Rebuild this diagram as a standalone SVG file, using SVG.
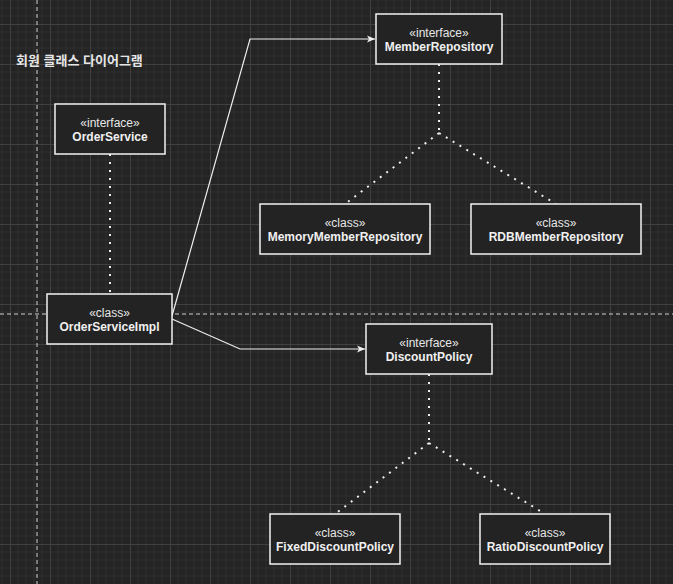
<svg xmlns="http://www.w3.org/2000/svg" width="673" height="584" viewBox="0 0 673 584">
<style>
.box{fill:#232323;stroke:#f2f2f2;stroke-width:1.5}
.st{font-family:"Liberation Sans",Arial,sans-serif;font-size:12px;fill:#e6e6e6;text-anchor:middle}
.nm{font-family:"Liberation Sans",Arial,sans-serif;font-size:12px;font-weight:bold;fill:#f0f0f0;text-anchor:middle}
.solid{fill:none;stroke:#eeeeee;stroke-width:1.2}
.dot{fill:none;stroke:#eeeeee;stroke-width:2;stroke-dasharray:2 6}
.guide{fill:none;stroke:#cfcfcf;stroke-width:1;stroke-dasharray:4 3}
</style>
<defs>
<pattern id="grid" patternUnits="userSpaceOnUse" x="10" y="24" width="40" height="40">
<rect width="40" height="40" fill="#242424"/>
<path d="M8,0V40M16,0V40M24,0V40M32,0V40M0,8H40M0,16H40M0,24H40M0,32H40" stroke="#2e2e2e" stroke-width="1" fill="none"/>
<path d="M0.5,0V40M0,0.5H40" stroke="#404040" stroke-width="1" fill="none"/>
</pattern>
<marker id="arr" markerWidth="9" markerHeight="8" refX="8" refY="4" orient="auto" markerUnits="userSpaceOnUse">
<path d="M0,0.5 L8,4 L0,7.5 L2,4 z" fill="#eeeeee"/>
</marker>
</defs>
<rect width="673" height="584" fill="url(#grid)"/>
<path class="guide" d="M37,0V584"/>
<path class="guide" d="M0,314H673"/>
<text x="16" y="65" font-family="'Liberation Sans','Noto Sans CJK KR',sans-serif" font-size="13" font-weight="bold" fill="#e6e6e6">회원 클래스 다이어그램</text>
<g id="connectors">
<path class="dot" d="M110,154V294"/>
<path class="dot" d="M439,64V133"/>
<path class="dot" d="M439,133L345,204"/>
<path class="dot" d="M439,133L556,204"/>
<path class="dot" d="M429,374V443"/>
<path class="dot" d="M429,443L335,514"/>
<path class="dot" d="M429,443L545,514"/>
<path class="solid" d="M172,316L250,39H375" marker-end="url(#arr)"/>
<path class="solid" d="M172,319L240,349H365" marker-end="url(#arr)"/>
</g>
<g id="OrderService">
<rect class="box" x="55" y="104" width="110" height="50"/>
<text class="st" x="110" y="127">«interface»</text>
<text class="nm" x="110" y="141">OrderService</text>
</g>
<g id="OrderServiceImpl">
<rect class="box" x="47" y="294" width="125" height="50"/>
<text class="st" x="109.5" y="317">«class»</text>
<text class="nm" x="109.5" y="331">OrderServiceImpl</text>
</g>
<g id="MemberRepository">
<rect class="box" x="376" y="14" width="126" height="50"/>
<text class="st" x="439" y="37">«interface»</text>
<text class="nm" x="439" y="51">MemberRepository</text>
</g>
<g id="MemoryMemberRepository">
<rect class="box" x="260" y="204" width="170" height="50"/>
<text class="st" x="345" y="227">«class»</text>
<text class="nm" x="345" y="241">MemoryMemberRepository</text>
</g>
<g id="RDBMemberRepository">
<rect class="box" x="471" y="204" width="170" height="50"/>
<text class="st" x="556" y="227">«class»</text>
<text class="nm" x="556" y="241">RDBMemberRepository</text>
</g>
<g id="DiscountPolicy">
<rect class="box" x="366" y="324" width="126" height="50"/>
<text class="st" x="429" y="347">«interface»</text>
<text class="nm" x="429" y="361">DiscountPolicy</text>
</g>
<g id="FixedDiscountPolicy">
<rect class="box" x="270" y="514" width="130" height="50"/>
<text class="st" x="335" y="537">«class»</text>
<text class="nm" x="335" y="551">FixedDiscountPolicy</text>
</g>
<g id="RatioDiscountPolicy">
<rect class="box" x="480" y="514" width="130" height="50"/>
<text class="st" x="545" y="537">«class»</text>
<text class="nm" x="545" y="551">RatioDiscountPolicy</text>
</g>
</svg>
